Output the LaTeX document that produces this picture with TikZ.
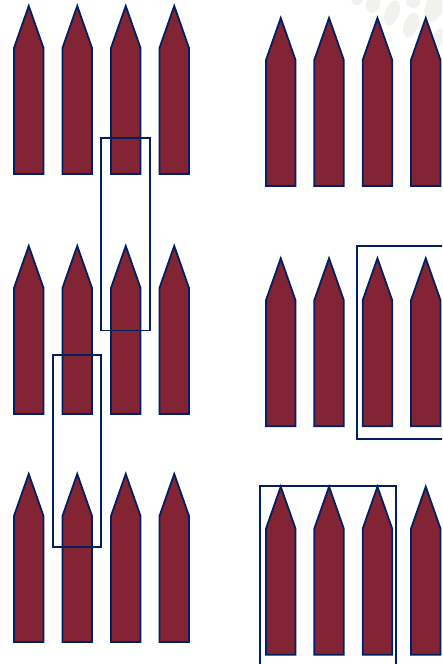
\documentclass[tikz,border=0pt]{standalone}
\begin{document}
\begin{tikzpicture}[x=1pt,y=-1pt,
  pencilstyle/.style={fill=pencilred,draw=navy,line width=1.8pt,line join=miter},
  framestyle/.style={draw=navy,line width=1.6pt},
  spotstyle/.style={fill=spotgray}]
\definecolor{pencilred}{HTML}{822433}
\definecolor{navy}{HTML}{002060}
\definecolor{spotgray}{HTML}{F2F1EE}
\useasboundingbox (0,0) rectangle (442,664);
\clip (0,0) rectangle (442,664);
\fill[white] (0,0) rectangle (442,664);
% faint spots top right
\fill[spotstyle] (357,0) ellipse [x radius=6,y radius=5];
\fill[spotstyle,rotate around={-20:(373,4)}] (373,4) ellipse [x radius=7,y radius=9];
\fill[spotstyle,rotate around={-20:(392,13)}] (392,13) ellipse [x radius=7,y radius=13];
\fill[spotstyle,rotate around={-20:(411,25)}] (411,25) ellipse [x radius=7,y radius=13];
\fill[spotstyle] (413,2) ellipse [x radius=7,y radius=6];
\fill[spotstyle,rotate around={-20:(434,8)}] (434,8) ellipse [x radius=9,y radius=14];
\fill[spotstyle,rotate around={-20:(437,40)}] (437,40) ellipse [x radius=5,y radius=12];
% pencils
\newcommand{\mypencil}[2]{%
  \draw[pencilstyle] (#1,#2+42) -- (#1+14.75,#2) -- (#1+29.5,#2+42) -- (#1+29.5,#2+168) -- (#1,#2+168) -- cycle;}
\foreach \t in {6,246,474}{
  \foreach \l in {14,62.5,111,159.5}{\mypencil{\l}{\t}}}
\foreach \t in {18,258.3,486.7}{
  \foreach \l in {266,314.3,362.7,411}{\mypencil{\l}{\t}}}
% frames
\draw[framestyle] (101,138) rectangle (150,330.5);
\draw[framestyle] (52.7,354.7) rectangle (101,547);
\draw[framestyle] (356.7,246) rectangle (460,439);
\draw[framestyle] (260,485.7) rectangle (395.7,680);
\end{tikzpicture}
\end{document}
